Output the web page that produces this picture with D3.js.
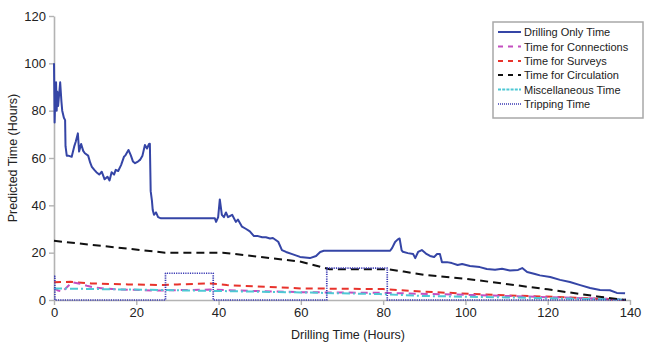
<!DOCTYPE html>
<html><head><meta charset="utf-8">
<script src="https://cdn.jsdelivr.net/npm/d3@7"></script>
<style>
html,body{margin:0;padding:0;background:#fff;}
svg{display:block;font-family:"Liberation Sans",Arial,sans-serif;}
</style></head>
<body><svg id="c" width="650" height="349"></svg>
<script>
// Drilling Only Time
const drillX = [0,0.15,0.3,0.5,0.65,0.8,1.0,1.2,1.5,1.8,2.0,2.4,2.7,2.8,3.1,3.5,4.3,4.9,5.3,5.8,6.1,6.6,7.1,7.5,8.3,8.8,9.2,9.8,10.3,11.0,11.6,12.3,13.0,13.5,14.0,14.6,15.0,15.6,16.3,17.0,17.3,18.1,18.7,19.2,19.7,20.4,20.9,21.5,22.1,22.6,23.1,23.3,23.5,23.8,24.0,24.3,24.8,25.3,26.0,39.1,39.4,39.9,40.3,40.8,41.3,41.8,42.3,43.3,44.2,44.7,45.7,46.7,47.6,48.6,49.6,50.6,51.5,52.5,53.2,54.5,55.4,56.4,57.9,59.8,62.2,63.7,64.7,65.6,81.7,82.2,82.9,83.5,84.0,84.5,84.8,86.0,87.3,87.8,88.5,89.4,90.4,91.4,92.4,93.1,93.8,94.3,95.5,96.7,98.1,99.2,101.1,103.5,105.2,107.2,108.9,110.8,112.8,113.8,115.0,116.9,118.1,120.6,123.0,125.4,127.9,130.3,132.7,135.1,136.8,138.8];
const drillY = [100,75,85,92,80,88,82,86,92,84,80,77,76,65,61,61,60.5,64.8,67,70.4,62.7,65.9,63,62,61,58,56.3,55,54,53,54.2,51,52.1,50.5,54,53,55,54.5,57,60.5,61,63.4,61,58.5,57.8,58.5,59.2,61,65.5,64,65.9,66,46,42,38,36,37,35,34.5,34.5,33,35,42.5,36,35,37,35,36,33,34,31,30,29,27,27,26.5,26.5,26,26.2,24.6,21.1,20.3,19.4,18.2,17.7,18.6,20.3,20.8,20.8,22,24.5,25.5,26,21,20.4,19.8,19.4,17.7,20.3,21.1,19.6,18.6,18.2,19.4,19.4,16,16,15.6,14.8,15.2,14.4,13.9,13.1,12.8,13.2,12.5,12.7,13.5,11.8,11.0,10.4,9.7,8.5,7.6,6.3,5.1,4.2,4.1,3.0,2.8];
// Time for Connections
const connX = [0,1,2,3.5,4.5,6,8,10,15,25,38,45,60,80,100,120,139];
const connY = [5,4,3.5,6,7.5,7,6,5.2,4.5,4,4.4,4,3.3,3,2.2,1.2,0.3];
// Time for Surveys
const survX = [0,4,9,18,26.5,30,38,42,60,80,90,108,122,139];
const survY = [7.5,7.7,7,6.6,6.3,6.6,7,6.3,4.9,4.6,3.5,2.1,1.3,0];
// Time for Circulation
const circX = [0,27,41,60,67,81,85,90,100,112,120,132,139];
const circY = [25,20,20,16.2,13,13,12,10.6,9,6.3,4.5,1.5,0];
// Miscellaneous Time
const miscX = [0,26.5,40,60,79,90,110,125,139];
const miscY = [4.9,4.2,3.8,3.2,2.5,1.7,1.1,0.6,0.2];
// Tripping Time (step)
const tripX = [0,0.2,27.1,38.7,66.3,81,139];
const tripY = [10,0,11.3,0,13.5,0,0];

const xTicks = [0,20,40,60,80,100,120,140];
const yTicks = [0,20,40,60,80,100,120];
const legendLabels = ["Drilling Only Time","Time for Connections","Time for Surveys","Time for Circulation","Miscellaneous Time","Tripping Time"];

const svg = d3.select("#c");
const x = d3.scaleLinear().domain([0,140]).range([54,630]);
const y = d3.scaleLinear().domain([0,120]).range([300,16]);
const axisCol = "#b3b3b3";

// axes
const gx = svg.append("g").attr("transform","translate(0,300)")
  .call(d3.axisBottom(x).tickValues(xTicks).tickSize(5).tickPadding(3).tickSizeOuter(0));
const gy = svg.append("g").attr("transform","translate(54,0)")
  .call(d3.axisLeft(y).tickValues(yTicks).tickSize(5).tickPadding(3).tickSizeOuter(0));
[gx,gy].forEach(g=>{
  g.select(".domain").attr("stroke",axisCol).attr("stroke-width",1.6);
  g.selectAll(".tick line").attr("stroke",axisCol).attr("stroke-width",1.4);
  g.selectAll(".tick text").attr("fill","#222").style("font-size","13px").style("font-family","'Liberation Sans',Arial,sans-serif");
});

const mk = (xs,ys)=>xs.map((v,i)=>[v,ys[i]]);
const line = d3.line().x(d=>x(d[0])).y(d=>y(d[1]));
const stepLine = d3.line().x(d=>x(d[0])).y(d=>y(d[1])).curve(d3.curveStepAfter);

const series = [
  {d:mk(survX,survY), c:"#e8332c", w:2, da:"7,5", gen:line},
  {d:mk(connX,connY), c:"#c44fc0", w:2, da:"7,5", gen:line},
  {d:mk(miscX,miscY), c:"#4ec8d4", w:2, da:"8,3,2,3", gen:line},
  {d:mk(circX,circY), c:"#111", w:2, da:"8,5", gen:line},
  {d:mk(tripX,tripY), c:"#3a3ab4", w:1.7, da:"1.2,1.1", gen:stepLine},
  {d:mk(drillX,drillY), c:"#3545a6", w:2, da:null, gen:line}
];
series.forEach(s=>{
  svg.append("path").attr("d",s.gen(s.d)).attr("fill","none")
    .attr("stroke",s.c).attr("stroke-width",s.w)
    .attr("stroke-dasharray",s.da).attr("stroke-linejoin","round");
});

// axis labels
svg.append("text").attr("x",348).attr("y",339).attr("text-anchor","middle")
  .style("font-size","12.5px").attr("fill","#222").text("Drilling Time (Hours)");
svg.append("text").attr("transform","translate(17,158) rotate(-90)").attr("text-anchor","middle")
  .style("font-size","12.5px").attr("fill","#222").text("Predicted Time (Hours)");

// legend
const lg = svg.append("g");
lg.append("rect").attr("x",493).attr("y",22).attr("width",150).attr("height",96)
  .attr("fill","#fff").attr("stroke","#a8a8a8").attr("stroke-width",1.5);
const legStyles = [
  {c:"#3545a6", w:2, da:null},
  {c:"#c44fc0", w:2, da:"5,5"},
  {c:"#e8332c", w:2, da:"5,5"},
  {c:"#111", w:2, da:"5,5"},
  {c:"#4ec8d4", w:2, da:"3,1.2"},
  {c:"#3a3ab4", w:1.6, da:"1,1"}
];
const legY = [32,46.5,61,75,89.5,104];
legendLabels.forEach((t,i)=>{
  lg.append("line").attr("x1",498).attr("x2",521).attr("y1",legY[i]).attr("y2",legY[i])
    .attr("stroke",legStyles[i].c).attr("stroke-width",legStyles[i].w).attr("stroke-dasharray",legStyles[i].da);
  lg.append("text").attr("x",524).attr("y",legY[i]+4).style("font-size","11px").attr("fill","#222").text(t);
});
</script></body></html>
